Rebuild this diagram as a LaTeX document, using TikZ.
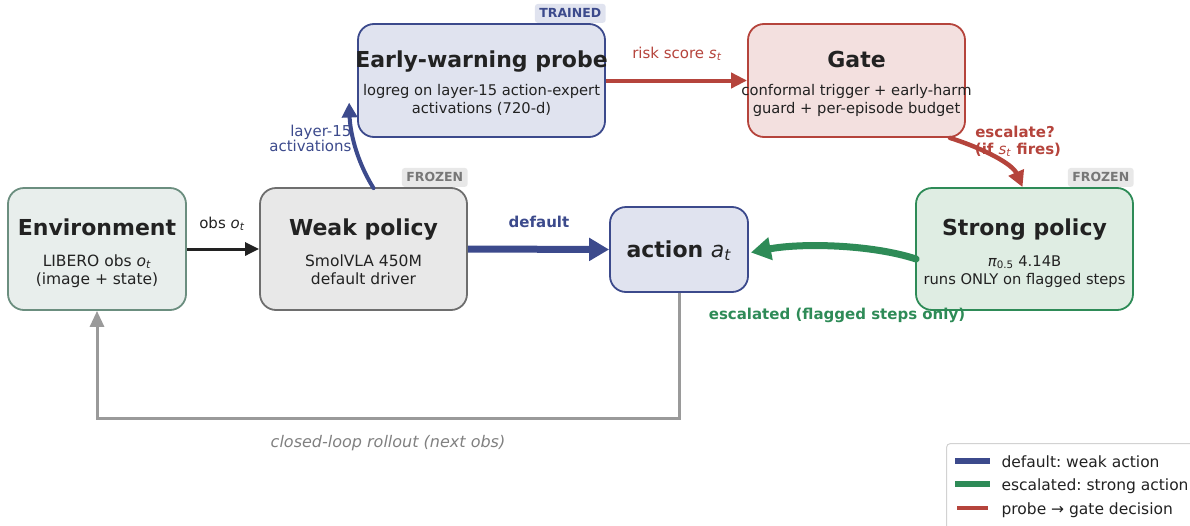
\documentclass[tikz,border=0pt]{standalone}
\usepackage{fontspec}
\setmainfont{DejaVu Sans}
\usetikzlibrary{arrows.meta,calc}
\definecolor{cblue}{HTML}{3C4A8C}
\definecolor{cred}{HTML}{B5443C}
\definecolor{cgreen}{HTML}{2E8B57}
\definecolor{cgrey}{HTML}{9A9A9A}
\definecolor{tdark}{HTML}{222222}
\definecolor{envf}{HTML}{E8EEEC}
\definecolor{envb}{HTML}{6B8E7F}
\definecolor{weakf}{HTML}{E8E8E8}
\definecolor{weakb}{HTML}{6E6E6E}
\definecolor{probef}{HTML}{E0E3EF}
\definecolor{gatef}{HTML}{F3E0DF}
\definecolor{strongf}{HTML}{DFEDE3}
\definecolor{legb}{HTML}{D2D2D2}
\definecolor{tagt}{HTML}{777777}
\newcommand{\sub}[2]{\textit{#1}\textsubscript{\textit{#2}}}
\frenchspacing
\begin{document}
\frenchspacing
\begin{tikzpicture}[x=1pt,y=-1pt,
  box/.style={draw, rounded corners=16pt, line width=1.8pt, inner sep=0pt},
  ttl/.style={anchor=base, text=tdark, font=\fontsize{22}{26}\selectfont\bfseries},
  subl/.style={anchor=base, text=tdark, font=\fontsize{14.7}{18}\selectfont},
  subb/.style={anchor=base, text=tdark, font=\fontsize{15.5}{18}\selectfont},
  lab/.style={anchor=base, font=\fontsize{15}{18}\selectfont},
  tagbox/.style={anchor=south east, rounded corners=3pt, inner xsep=4.5pt, inner ysep=0pt, minimum height=19pt, font=\fontsize{12.5}{14}\selectfont\bfseries},
  legtxt/.style={anchor=base west, text=tdark, font=\fontsize{15.5}{18}\selectfont}
]
\useasboundingbox (0,0) rectangle (1190,525);

% boxes
\node[box, draw=envb, fill=envf, minimum width=178pt, minimum height=122pt] (env) at (97,249) {};
\node[box, draw=weakb, fill=weakf, minimum width=207pt, minimum height=122pt] (weak) at (363.5,249) {};
\node[box, draw=cblue, fill=probef, minimum width=247pt, minimum height=113pt] (probe) at (481.5,80.5) {};
\node[box, draw=cred, fill=gatef, minimum width=217pt, minimum height=113pt] (gate) at (856.5,80.5) {};
\node[box, draw=cblue, fill=probef, minimum width=138pt, minimum height=85pt] (act) at (679,249.5) {};
\node[box, draw=cgreen, fill=strongf, minimum width=217pt, minimum height=122pt] (strong) at (1024.5,249) {};

% tags
\node[tagbox, fill=probef, text=cblue] (tagtr) at (probe.north east) {TRAINED};
\node[tagbox, fill=weakf, text=tagt] (tagfr1) at (weak.north east) {FROZEN};
\node[tagbox, fill=weakf, text=tagt] (tagfr2) at (strong.north east) {FROZEN};

% box texts
\node[ttl] (envt) at (97,235) {Environment};
\node[subb] (envs1) at (97,266) {LIBERO obs \sub{o}{t}};
\node[subb] (envs2) at (97,284) {(image + state)};

\node[ttl] (weakt) at (363.5,235) {Weak policy};
\node[subb] (weaks1) at (363.5,266) {SmolVLA 450M};
\node[subb] (weaks2) at (363.5,284) {default driver};

\node[ttl] (probet) at (481.5,67) {Early-warning probe};
\node[subl] (probes1) at (481.5,95) {logreg on layer-15 action-expert};
\node[subl] (probes2) at (481.5,113) {activations (720-d)};

\node[ttl] (gatet) at (856.5,67) {Gate};
\node[subl] (gates1) at (856.5,95) {conformal trigger + early-harm};
\node[subl] (gates2) at (856.5,113) {guard + per-episode budget};

\node[ttl] (actt) at (679,257) {action \mdseries\sub{a}{t}};

\node[ttl] (strongt) at (1024.5,235) {Strong policy};
\node[subl] (strongs1) at (1024.5,266) {\textit{π}\textsubscript{0.5} 4.14B};
\node[subl] (strongs2) at (1024.5,284) {runs ONLY on flagged steps};

% connectors
\draw[-{Triangle[length=14pt,width=13pt]}, line width=3pt, draw=tdark] (env.east) -- (weak.west);
\node[lab, text=tdark] (lobs) at (222,228) {obs \sub{o}{t}};

\draw[-{Triangle[length=20pt,width=22pt]}, line width=7pt, draw=cblue] (weak.east) -- (act.west);
\node[lab, text=cblue, font=\fontsize{15}{18}\selectfont\bfseries] (ldef) at (539,227) {default};

\draw[-{Triangle[length=16pt,width=15pt]}, line width=4pt, draw=cred] (probe.east) -- (gate.west);
\node[lab, text=cred] (lrisk) at (677,58) {risk score \sub{s}{t}};

\draw[-{Triangle[length=15pt,width=15pt]}, line width=4pt, line cap=round, draw=cblue]
  ($(weak.north)+(10,1)$) .. controls ($(weak.north)+(-8,-28)$) and ($(probe.west)+(-7,50)$) .. ($(probe.west)+(-8,22)$);
\node[lab, anchor=base east, text=cblue] (llay1) at (355,136) {layer-15};
\node[lab, anchor=base east, text=cblue] (llay2) at (355,151) {activations};

\draw[-{Triangle[length=16pt,width=16pt]}, line width=4.5pt, line cap=round, draw=cred]
  ($(gate.south)+(93.5,0)$) .. controls ($(gate.south)+(128,11)$) and ($(strong.north)+(-12,-23)$) .. ($(strong.north)+(-2,0)$);
\node[lab, text=cred, font=\fontsize{15}{18}\selectfont\bfseries] (lesc1) at (1015,137) {escalate?};
\node[lab, text=cred, font=\fontsize{15}{18}\selectfont\bfseries] (lesc2) at (1018,154) {(if \mdseries\sub{s}{t}\bfseries{} fires)};

\draw[-{Triangle[length=20pt,width=22pt]}, line width=7pt, line cap=round, draw=cgreen]
  ($(strong.west)+(1,10)$) .. controls (870,244) and (800,243) .. ($(act.east)+(2,3)$);
\node[lab, text=cgreen, font=\fontsize{15}{18}\selectfont\bfseries] (lescd) at (837,319) {escalated (flagged steps only)};

\coordinate (lp) at (97,418);
\draw[-{Triangle[length=16pt,width=14pt]}, line width=3pt, draw=cgrey] (act.south) |- (lp) -- (env.south);
\node[lab, text=gray, font=\fontsize{16}{18}\selectfont\itshape] (lloop) at (388,447) {closed-loop rollout (next obs)};

% legend
\node[draw=legb, fill=white, rounded corners=4pt, line width=1pt, minimum width=260pt, minimum height=100pt, anchor=north west] (leg) at (946,443) {};
\draw[cblue, line width=6.5pt] ($(leg.north west)+(9,18)$) -- ($(leg.north west)+(44,18)$);
\draw[cgreen, line width=6.5pt] ($(leg.north west)+(9,41)$) -- ($(leg.north west)+(44,41)$);
\draw[cred, line width=4pt] ($(leg.north west)+(11,65)$) -- ($(leg.north west)+(42,65)$);
\node[legtxt] (leg1) at ($(leg.north west)+(52,24)$) {default: weak action};
\node[legtxt] (leg2) at ($(leg.north west)+(52,47)$) {escalated: strong action};
\node[legtxt] (leg3) at ($(leg.north west)+(52,71)$) {probe → gate decision};
\end{tikzpicture}
\end{document}
